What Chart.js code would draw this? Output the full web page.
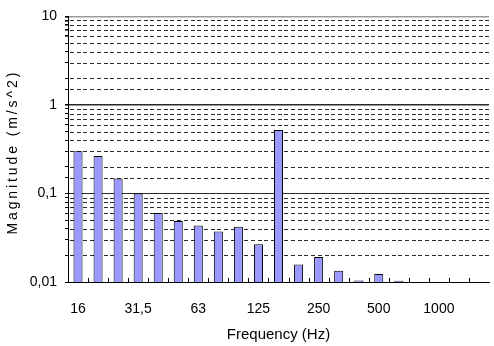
<!DOCTYPE html>
<html>
<head>
<meta charset="utf-8">
<script src="https://cdn.jsdelivr.net/npm/chart.js@4/dist/chart.umd.min.js"></script>
<style>
  html, body { margin: 0; padding: 0; overflow: hidden; background: #fff; }
  #wrap { width: 498px; height: 346px; }
</style>
</head>
<body>
<div id="wrap"><canvas id="c" width="498" height="346"></canvas></div>
<script>
// One-third octave band centre frequencies (Hz)
const frequencies = ['16', '20', '25', '31,5', '40', '50', '63', '80', '100', '125', '160',
                     '200', '250', '315', '400', '500', '630', '800', '1000', '1250', '1600'];
// Acceleration magnitude per band (m/s^2); bands below the 0.01 floor left empty
const magnitudes = [0.30, 0.265, 0.148, 0.100, 0.060, 0.049, 0.0435, 0.0372, 0.042, 0.0267, 0.52,
                    0.0158, 0.0192, 0.0134, 0.0104, 0.0123, 0.0103, null, null, null, null];
// Frequency labels printed under the axis
const shownFrequencyLabels = ['16', '31,5', '63', '125', '250', '500', '1000'];
// Decade labels on the magnitude axis
const decadeValues = [0.01, 0.1, 1, 10];
const decadeLabels = ['0,01', '0,1', '1', '10'];
const yTitle = 'Magnitude (m/s^2)';

const isDecade = v => Math.abs(Math.log10(v) - Math.round(Math.log10(v))) < 1e-6;
const decadeLabel = v => {
  const i = decadeValues.findIndex(d => Math.abs(d - v) / d < 1e-6);
  return i >= 0 ? decadeLabels[i] : '';
};

Chart.defaults.font.family = "'Liberation Sans', Arial, sans-serif";
Chart.defaults.color = '#000';

// Dashed lines at the 2..9 sub-divisions of each decade (behind the bars),
// short marks between categories along the bottom axis, and the spaced-out
// vertical axis title.
const logGrid = {
  id: 'logGrid',
  beforeDatasetsDraw(chart) {
    const { ctx, chartArea: a, scales: { y } } = chart;
    ctx.save();
    ctx.fillStyle = '#2a2a2a';
    y.ticks.forEach(t => {
      if (isDecade(t.value)) return;
      const py = Math.round(y.getPixelForValue(t.value));
      for (let px = a.left + 2; px < a.right; px += 6.7) {
        const x0 = Math.round(px);
        ctx.fillRect(x0, py, Math.min(4, a.right - x0), 1);
      }
    });
    ctx.restore();
  },
  afterDatasetsDraw(chart) {
    const { ctx, chartArea: a, scales: { x } } = chart;
    const half = (x.getPixelForValue(1) - x.getPixelForValue(0)) / 2;
    ctx.save();
    ctx.lineWidth = 1;
    ctx.strokeStyle = '#000';
    for (let i = 1; i < frequencies.length; i++) {
      const px = Math.round(x.getPixelForValue(i) - half) + 0.5;
      ctx.beginPath();
      ctx.moveTo(px, a.bottom);
      ctx.lineTo(px, a.bottom - 4);
      ctx.stroke();
    }
    ctx.restore();
  },
  afterDraw(chart) {
    const { ctx, chartArea: a } = chart;
    ctx.save();
    ctx.translate(13, (a.top + a.bottom) / 2 + 3);
    ctx.rotate(-Math.PI / 2);
    ctx.font = "14px 'Liberation Sans', Arial, sans-serif";
    ctx.letterSpacing = '2.9px';
    ctx.fillStyle = '#000';
    ctx.textAlign = 'center';
    ctx.textBaseline = 'middle';
    ctx.fillText(yTitle, 0, 0);
    ctx.restore();
  }
};

new Chart(document.getElementById('c'), {
  type: 'bar',
  data: {
    labels: frequencies,
    datasets: [{
      data: magnitudes,
      backgroundColor: '#9999FF',
      borderColor: '#000',
      borderWidth: 1,
      barPercentage: 0.45,
      categoryPercentage: 1.0
    }]
  },
  options: {
    responsive: false,
    animation: false,
    layout: { padding: { top: 15, right: 0, left: 0, bottom: 0 } },
    plugins: { legend: { display: false }, tooltip: { enabled: false } },
    scales: {
      x: {
        grid: { display: true, drawOnChartArea: false, drawTicks: false },
        border: { display: true, color: '#000', width: 1 },
        ticks: {
          autoSkip: false,
          maxRotation: 0,
          padding: 19,
          font: { size: 14 },
          callback(value) {
            const lab = frequencies[value];
            return shownFrequencyLabels.includes(lab) ? lab : '';
          }
        },
        title: {
          display: true,
          text: 'Frequency (Hz)',
          font: { size: 15 },
          padding: { top: 4, bottom: 2 }
        },
        afterFit(scale) { scale.height = 64; }
      },
      y: {
        type: 'logarithmic',
        min: 0.01,
        max: 10,
        border: { display: true, color: '#000', width: 1 },
        grid: {
          drawOnChartArea: true,
          drawTicks: true,
          tickLength: 3,
          tickColor: '#000',
          color(ctx) {
            if (!ctx.tick || !isDecade(ctx.tick.value)) return 'rgba(0,0,0,0)';
            return ctx.tick.value > 5 ? '#9a9a9a' : '#2a2a2a';
          },
          lineWidth(ctx) {
            if (!ctx.tick) return 1;
            return Math.abs(ctx.tick.value - 1) < 1e-6 || ctx.tick.value > 5 ? 1.6 : 1;
          }
        },
        ticks: {
          autoSkip: false,
          padding: 8,
          font: { size: 14 },
          callback(value) { return decadeLabel(value); }
        },
        title: { display: false },
        afterFit(scale) { scale.width = 68; }
      }
    }
  },
  plugins: [logGrid]
});
</script>
</body>
</html>
